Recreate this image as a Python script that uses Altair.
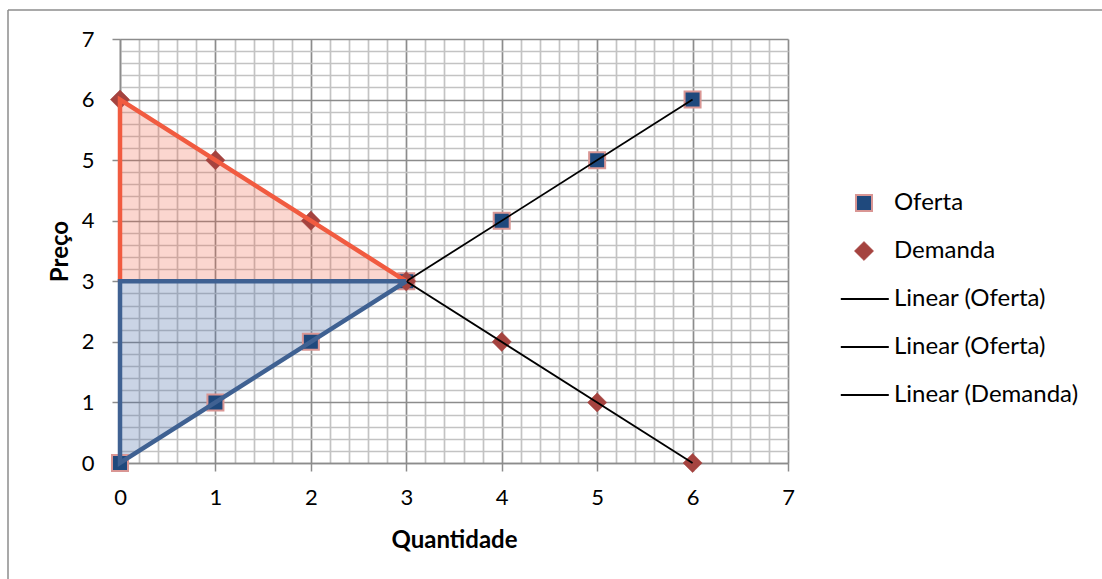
import altair as alt
import pandas as pd

# ---- data ----
quantidade = [0, 1, 2, 3, 4, 5, 6]
oferta = [0, 1, 2, 3, 4, 5, 6]
demanda = [6, 5, 4, 3, 2, 1, 0]

# equilibrium and surplus triangles
cons_q = [0, 3]
cons_top = [6, 3]
cons_bot = [3, 3]
prod_q = [0, 3]
prod_top = [3, 3]
prod_bot = [0, 3]
cons_line_q = [0, 0, 3]
cons_line_p = [3, 6, 3]
prod_line_q = [3, 0, 0, 3]
prod_line_p = [3, 3, 0, 3]

legend_names = ["Oferta", "Demanda", "Linear (Oferta)", "Linear (Oferta) ", "Linear (Demanda)"]

FONT = "Lato"

# marker shapes (unit paths, scaled by the mark size)
SQUARE = "M-1,-1L1,-1L1,1L-1,1Z"
DIAMOND = "M0,-1.2L1.2,0L0,1.2L-1.2,0Z"
LINE = "M-2.9,0L3.1,0"

pts = pd.DataFrame(
    {"q": quantidade + quantidade,
     "p": oferta + demanda,
     "serie": ["Oferta"] * len(oferta) + ["Demanda"] * len(demanda)}
)
cons_df = pd.DataFrame({"q": cons_q, "p": cons_top, "p2": cons_bot})
prod_df = pd.DataFrame({"q": prod_q, "p": prod_top, "p2": prod_bot})
cons_line = pd.DataFrame({"q": cons_line_q, "p": cons_line_p, "o": list(range(len(cons_line_q)))})
prod_line = pd.DataFrame({"q": prod_line_q, "p": prod_line_p, "o": list(range(len(prod_line_q)))})

grid_vals = [round(i * 0.2, 1) for i in range(36)]
is_major = "abs(datum.value - round(datum.value)) < 0.001"


def make_axis(title, **kw):
    return alt.Axis(
        values=grid_vals,
        title=title,
        grid=True,
        gridColor={"condition": {"test": is_major, "value": "#8c8c8c"}, "value": "#c3c3c3"},
        gridWidth=1.7,
        tickOpacity={"condition": {"test": is_major, "value": 1}, "value": 0},
        tickColor="#8c8c8c",
        tickWidth=1.5,
        tickSize=8,
        domainColor="#8c8c8c",
        domainWidth=1.5,
        labelExpr=f"({is_major}) ? format(datum.value, 'd') : ''",
        labelOverlap=False,
        labelFlush=False,
        labelFont=FONT,
        labelFontSize=22,
        labelColor="black",
        titleFont=FONT,
        titleFontSize=24,
        titleFontWeight="bold",
        titleColor="black",
        titleBaseline="middle",
        **kw,
    )


xsc = alt.Scale(domain=[0, 7], nice=False, zero=True)
ysc = alt.Scale(domain=[0, 7], nice=False, zero=True)
X = alt.X("q:Q", scale=xsc, axis=make_axis("Quantidade", labelPadding=16, titleY=77))
Y = alt.Y("p:Q", scale=ysc, axis=make_axis("Preço", labelPadding=18, titleX=-60, titleY=212))

cons_area = alt.Chart(cons_df).mark_area(color="#f15b40", opacity=0.25).encode(
    x=X, y=Y, y2="p2:Q")
prod_area = alt.Chart(prod_df).mark_area(color="#4f6fa8", opacity=0.3).encode(
    x=X, y=Y, y2="p2:Q")

points = alt.Chart(pts).mark_point(filled=True, opacity=1, size=256).encode(
    x=X, y=Y,
    shape=alt.Shape("serie:N", scale=alt.Scale(
        domain=legend_names, range=[SQUARE, DIAMOND, LINE, LINE, LINE]),
        legend=alt.Legend(
            title=None, orient="none", legendX=732, legendY=152,
            labelFont=FONT, labelFontSize=24, labelColor="black", labelLimit=400,
            labelOffset=18, rowPadding=24, padding=0, symbolOpacity=1,
            symbolSize=256,
        )),
    fill=alt.Fill("serie:N", scale=alt.Scale(
        domain=legend_names, range=["#1f497d", "#a5433f", "black", "black", "black"])),
    stroke=alt.Stroke("serie:N", scale=alt.Scale(
        domain=legend_names, range=["#d99694", "#a5433f", "black", "black", "black"])),
    strokeWidth=alt.StrokeWidth("serie:N", scale=alt.Scale(
        type="ordinal", domain=legend_names, range=[2, 0.5, 1.8, 1.8, 1.8])),
)

trend = alt.Chart(pts).transform_regression("q", "p", groupby=["serie"]).mark_line(
    color="black", strokeWidth=1.8).encode(x=X, y=Y, detail="serie:N")

cons_outline = alt.Chart(cons_line).mark_line(color="#f15b40", strokeWidth=4.5).encode(
    x=X, y=Y, order="o:Q")
prod_outline = alt.Chart(prod_line).mark_line(color="#3f6192", strokeWidth=4.5).encode(
    x=X, y=Y, order="o:Q")

frame_df = pd.DataFrame({"a": [0]})
frame_top = alt.Chart(frame_df).mark_rule(color="#8c8c8c", strokeWidth=1.5).encode(
    x=alt.value(-112), x2=alt.value(1102), y=alt.value(-29))
frame_left = alt.Chart(frame_df).mark_rule(color="#8c8c8c", strokeWidth=1.5).encode(
    x=alt.value(-112), y=alt.value(-29), y2=alt.value(700))

chart = alt.layer(
    cons_area, prod_area, points, trend, cons_outline, prod_outline, frame_top, frame_left
).properties(
    width=668, height=424,
    autosize=alt.AutoSizeParams(type="none"),
    padding={"left": 120, "top": 39, "right": 314, "bottom": 116},
    background="white",
).configure_view(stroke=None)

chart.save("out.html", embed_options={"renderer": "svg", "actions": False})
